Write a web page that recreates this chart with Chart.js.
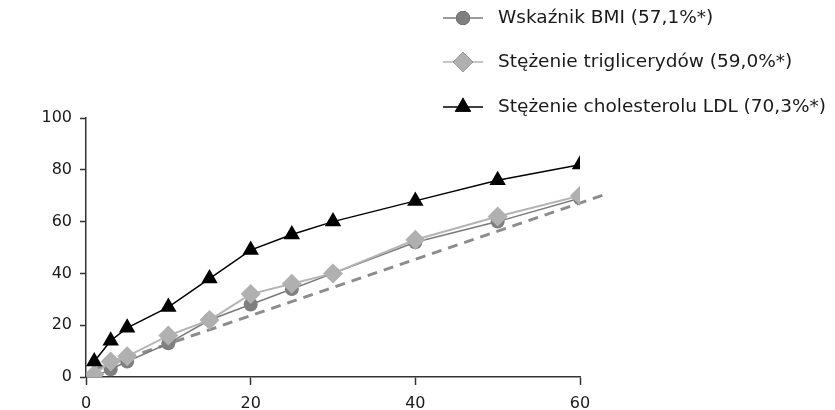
<!DOCTYPE html>
<html>
<head>
<meta charset="utf-8">
<script src="https://cdn.jsdelivr.net/npm/chart.js@4"></script>
<style>
  html, body { margin: 0; padding: 0; background: #fff; }
  #wrap { width: 835px; height: 410px; }
</style>
</head>
<body>
<div id="wrap"><canvas id="chart"></canvas></div>
<script>
const xValues = [1, 3, 5, 10, 15, 20, 25, 30, 40, 50, 60];
const bmiValues = [0, 3, 6, 13, 22, 28, 34, 40, 52, 60, 69];
const triValues = [1, 6, 8, 16, 22, 32, 36, 40, 53, 62, 70];
const ldlValues = [6, 14, 19, 27, 38, 49, 55, 60, 68, 76, 82];
const refX = [1, 63.5];
const refY = [3, 71];
const xTicks = [0, 20, 40, 60];
const yTicks = [0, 20, 40, 60, 80, 100];
const labels = [
    "Wskaźnik BMI (57,1%*)",
    "Stężenie triglicerydów (59,0%*)",
    "Stężenie cholesterolu LDL (70,3%*)"
];

const FONT = "'DejaVu Sans', sans-serif";
const toPoints = (xs, ys) => xs.map((x, i) => ({ x: x, y: ys[i] }));

const legendPlugin = {
    id: "sideLegend",
    afterDraw(chart) {
        const ctx = chart.ctx;
        const left = 443, lineLen = 40, textX = 498;
        const rows = [18, 62, 107];
        ctx.save();
        for (let i = 0; i < 3; i++) {
            const ds = chart.data.datasets[i];
            const y = rows[i];
            ctx.strokeStyle = ds.borderColor;
            ctx.lineWidth = 1.5;
            ctx.beginPath();
            ctx.moveTo(left, y);
            ctx.lineTo(left + lineLen, y);
            ctx.stroke();
            Chart.helpers.drawPoint(ctx, {
                pointStyle: ds.pointStyle,
                radius: ds.pointRadius,
                borderWidth: 0,
                rotation: 0
            }, left + lineLen / 2, y);
            ctx.fillStyle = ds.pointBackgroundColor;
            ctx.fill();
            ctx.fillStyle = "#1a1a1a";
            ctx.font = "18.5px " + FONT;
            ctx.textBaseline = "middle";
            ctx.fillText(labels[i], textX, y);
        }
        ctx.restore();
    }
};

new Chart("chart", {
    type: "line",
    data: {
        datasets: [
            {
                label: labels[0],
                data: toPoints(xValues, bmiValues),
                borderColor: "#7a7a7a",
                borderWidth: 1.5,
                pointStyle: "circle",
                pointRadius: 7,
                pointBackgroundColor: "#7f7f7f",
                pointBorderWidth: 0,
                order: 2
            },
            {
                label: labels[1],
                data: toPoints(xValues, triValues),
                borderColor: "#b4b4b4",
                borderWidth: 2,
                pointStyle: "rectRot",
                pointRadius: 10,
                pointBackgroundColor: "#b0b0b0",
                pointBorderWidth: 0,
                order: 1
            },
            {
                label: labels[2],
                data: toPoints(xValues, ldlValues),
                borderColor: "#000000",
                borderWidth: 1.5,
                pointStyle: "triangle",
                pointRadius: 9.5,
                pointBackgroundColor: "#000000",
                pointBorderWidth: 0,
                order: 0
            },
            {
                label: "ref",
                data: toPoints(refX, refY),
                borderColor: "#8c8c8c",
                borderWidth: 3,
                borderDash: [10, 7],
                pointRadius: 0,
                clip: false,
                order: 3
            }
        ]
    },
    options: {
        responsive: true,
        maintainAspectRatio: false,
        animation: false,
        layout: { padding: { top: 118, right: 255, left: 0, bottom: 0 } },
        plugins: {
            legend: { display: false },
            tooltip: { enabled: false }
        },
        scales: {
            x: {
                type: "linear",
                min: 0,
                max: 60,
                afterBuildTicks: (scale) => { scale.ticks = xTicks.map(v => ({ value: v })); },
                afterFit: (scale) => { scale.height = 33; },
                grid: { drawOnChartArea: false, tickLength: 8, color: "#333", tickWidth: 1.5 },
                border: { color: "#333", width: 1.5 },
                ticks: { color: "#1a1a1a", font: { family: FONT, size: 16 }, padding: 9 }
            },
            y: {
                min: 0,
                max: 100,
                afterBuildTicks: (scale) => { scale.ticks = yTicks.map(v => ({ value: v })); },
                afterFit: (scale) => { scale.width = 86; },
                grid: { drawOnChartArea: false, tickLength: 6, color: "#333", tickWidth: 1.5 },
                border: { color: "#333", width: 1.5 },
                ticks: { color: "#1a1a1a", font: { family: FONT, size: 16 }, padding: 8 }
            }
        }
    },
    plugins: [legendPlugin]
});
</script>
</body>
</html>
